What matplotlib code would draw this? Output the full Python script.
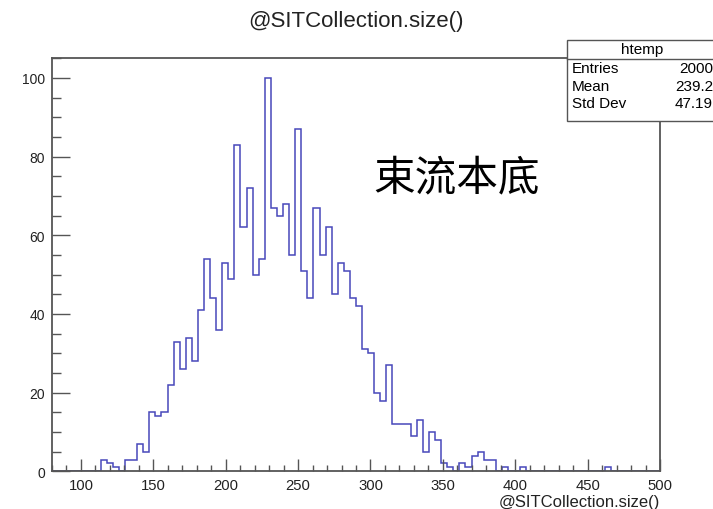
import numpy as np
import matplotlib.pyplot as plt
from matplotlib.ticker import MultipleLocator
from matplotlib.patches import Rectangle

# histogram "htemp": 100 bins between 80 and 500
x_low = 80
x_high = 500
n_bins = 100
counts = [
    0, 0, 0, 0, 0, 0, 0, 0, 3, 2,
    1, 0, 3, 3, 7, 5, 15, 14, 15, 22,
    33, 26, 34, 28, 41, 54, 44, 36, 53, 49,
    83, 62, 72, 50, 54, 100, 67, 65, 68, 55,
    87, 51, 44, 67, 55, 62, 45, 53, 51, 44,
    42, 31, 30, 20, 18, 27, 12, 12, 12, 9,
    13, 5, 10, 8, 2, 1, 0, 2, 1, 4,
    5, 3, 3, 0, 1, 0, 0, 1, 0, 0,
    0, 0, 0, 0, 0, 0, 0, 0, 0, 0,
    0, 1, 0, 0, 0, 0, 0, 0, 0, 0,
]
stat_names = ["Entries", "Mean", "Std Dev"]
stat_values = ["2000", "239.2", "47.19"]
hist_name = "htemp"
var_name = "@SITCollection.size()"
note = "束流本底"

plt.rcParams['font.family'] = ['Liberation Sans', 'DejaVu Sans']

edges = np.linspace(x_low, x_high, n_bins + 1)

fig = plt.figure(figsize=(7.13, 5.10), dpi=100)
ax = fig.add_axes([52 / 713, 1 - 472.3 / 510, 608 / 713, 413 / 510])

ax.stairs(counts, edges, baseline=None, color='#4848bb', linewidth=1.1,
          zorder=1)

ax.set_xlim(x_low, x_high)
ax.set_ylim(0, 105)
ax.xaxis.set_major_locator(MultipleLocator(50))
ax.xaxis.set_minor_locator(MultipleLocator(10))
ax.yaxis.set_major_locator(MultipleLocator(20))
ax.yaxis.set_minor_locator(MultipleLocator(5))

ax.tick_params(axis='x', which='major', direction='in', length=9, width=1,
               color='#555555', labelsize=10.7, pad=5, labelcolor='#222222')
ax.tick_params(axis='x', which='minor', direction='in', length=4.5, width=1,
               color='#555555')
ax.tick_params(axis='y', which='major', direction='in', length=13, width=1,
               color='#555555', labelsize=10, pad=5, labelcolor='#222222')
ax.tick_params(axis='y', which='minor', direction='in', length=6.3, width=1,
               color='#555555')
for s in ax.spines.values():
    s.set_color('#555555')
    s.set_linewidth(1.3)

fig.text(0.5, 1 - 22 / 510, var_name, ha='center', va='center', fontsize=16,
         color='#222222')
fig.text(660 / 713, 1 - 503 / 510, var_name, ha='right', va='center',
         fontsize=12, color='#222222')

ax.text(0.529, 0.71, note, transform=ax.transAxes, fontsize=30,
        family=['Noto Sans CJK SC', 'DejaVu Sans'], ha='left', va='center')

# statistics box, running past the right edge of the canvas
box_l, box_t, box_b = 567.3 / 713, 1 - 41 / 510, 1 - 122.3 / 510
fig.patches.append(Rectangle((box_l, box_b), 0.3, box_t - box_b,
                             transform=fig.transFigure, facecolor='white',
                             edgecolor='#555555', linewidth=1, zorder=5))
fig.add_artist(plt.Line2D([box_l, 1.1], [1 - 60 / 510] * 2,
                          transform=fig.transFigure, color='#555555',
                          linewidth=1, zorder=6))
fig.text(641.7 / 713, 1 - 50 / 510, hist_name, ha='center', va='center',
         fontsize=11, zorder=7)
for i, (name, val) in enumerate(zip(stat_names, stat_values)):
    y = 1 - (69.3 + 17.5 * i) / 510
    fig.text(571.7 / 713, y, name, ha='left', va='center', fontsize=11,
             zorder=7)
    fig.text(713 / 713, y, val, ha='right', va='center', fontsize=11,
             zorder=7)

fig.savefig("out.png", dpi=100)
